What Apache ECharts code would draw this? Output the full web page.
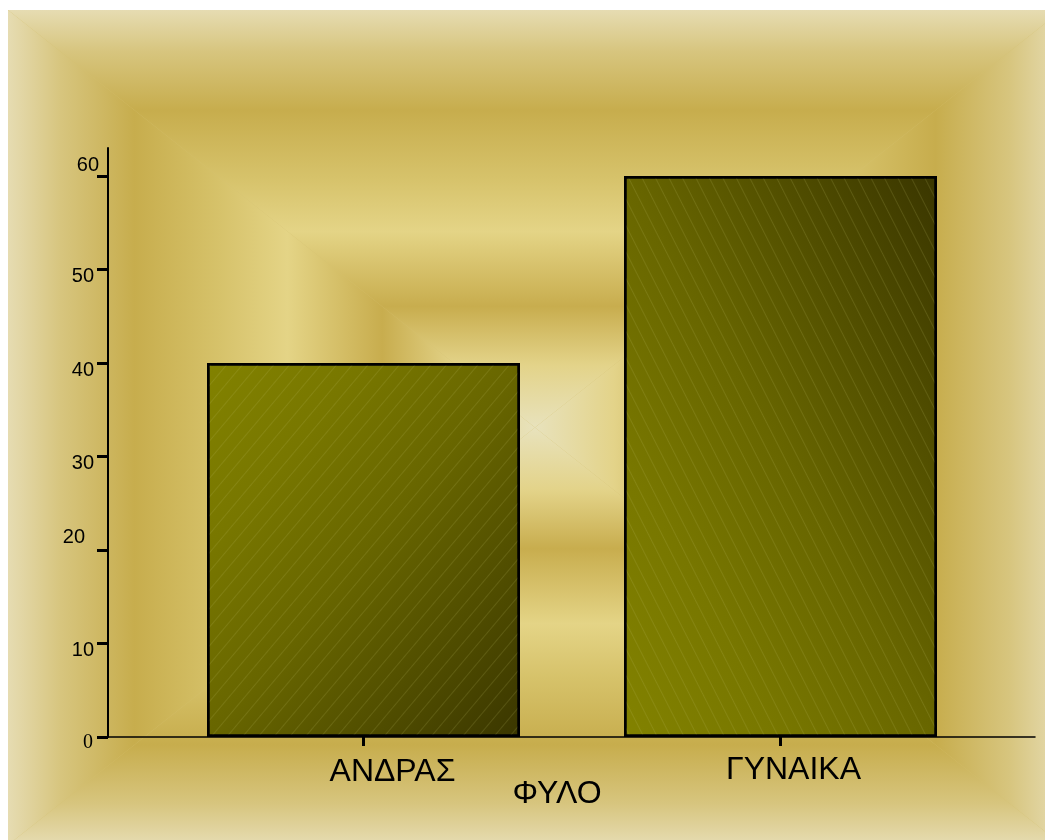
<!DOCTYPE html>
<html>
<head>
<meta charset="utf-8">
<script src="https://cdn.jsdelivr.net/npm/echarts@6/dist/echarts.min.js"></script>
<style>
html,body{margin:0;padding:0;background:#fff;}
#chart{width:1045px;height:840px;}
</style>
</head>
<body>
<div id="chart"></div>
<script>
const categories = ['ΑΝΔΡΑΣ', 'ΓΥΝΑΙΚΑ'];
const values = [40, 60];
const yTicks = [0, 10, 20, 30, 40, 50, 60];
const xAxisTitle = 'ΦΥΛΟ';

const chart = echarts.init(document.getElementById('chart'));

// rectangular ("from centre") gold gradient background
const bx0 = 8, by0 = 10, bx1 = 1062, by1 = 845;
const cx = (bx0 + bx1) / 2, cy = (by0 + by1) / 2;
const stops = [
  {offset: 0, color: '#e6dcb2'},
  {offset: 0.1, color: '#d7c57e'},
  {offset: 0.24, color: '#c7ad4d'},
  {offset: 0.4, color: '#d6c26a'},
  {offset: 0.53, color: '#e4d486'},
  {offset: 0.71, color: '#c8ad4e'},
  {offset: 0.85, color: '#e3d389'},
  {offset: 1, color: '#e8e2bc'}
];
function grad(x, y, x2, y2) {
  return new echarts.graphic.LinearGradient(x, y, x2, y2, stops);
}
const bgElems = [
  {type: 'rect', z: -20, shape: {x: bx0, y: by0, width: bx1 - bx0, height: by1 - by0}, style: {fill: '#d4c070'}},
  {type: 'polygon', z: -10, shape: {points: [[bx0, by0], [bx1, by0], [cx, cy]]}, style: {fill: grad(0, 0, 0, 1)}},
  {type: 'polygon', z: -10, shape: {points: [[bx0, by1], [bx1, by1], [cx, cy]]}, style: {fill: grad(0, 1, 0, 0)}},
  {type: 'polygon', z: -10, shape: {points: [[bx0, by0], [bx0, by1], [cx, cy]]}, style: {fill: grad(0, 0, 1, 0)}},
  {type: 'polygon', z: -10, shape: {points: [[bx1, by0], [bx1, by1], [cx, cy]]}, style: {fill: grad(1, 0, 0, 0)}}
];

// bar gradients: diagonal, with iso-lines along the opposite diagonal of each bar
const gridTop = 148, gridBottomPx = 737, yMax = 63, barW = 313;
const pxPerUnit = (gridBottomPx - gridTop) / yMax;
const barStops = [
  {offset: 0, color: '#828200'},
  {offset: 0.25, color: '#787700'},
  {offset: 0.5, color: '#686600'},
  {offset: 1, color: '#3a3600'}
];
function barGrad(v, rising) {
  const w = barW, h = v * pxPerUnit;
  const s = 2 * w * h / (w * w + h * h);
  if (rising) {
    return new echarts.graphic.LinearGradient(0, 1, s * h / w, 1 - s * w / h, barStops);
  }
  return new echarts.graphic.LinearGradient(0, 0, s * h / w, s * w / h, barStops);
}
const barRising = [false, true];
const hatchRotation = [-0.87, 1.1];

const yFont = {fontSize: 20, fontFamily: 'Liberation Sans', color: '#000'};
const yRich = {
  n: Object.assign({}, yFont, {padding: [14, 5, 0, 0]}),
  s60: Object.assign({}, yFont, {padding: [0, 0, 22, 0]}),
  s20: Object.assign({}, yFont, {padding: [0, 14, 26, 0]}),
  s0: Object.assign({}, yFont, {fontFamily: 'Liberation Serif', padding: [12, 6, 0, 0]})
};
const xFont = {fontSize: 32, fontFamily: 'Liberation Sans', color: '#000', lineHeight: 34};
const xRich = {
  c0: Object.assign({}, xFont, {padding: [4, 0, 0, 58]}),
  c1: Object.assign({}, xFont, {padding: [0, 0, 0, 26]})
};

const option = {
  backgroundColor: '#ffffff',
  animation: false,
  aria: {enabled: true, decal: {show: true}},
  graphic: {elements: bgElems},
  grid: [
    {left: 155, right: 56, top: gridTop, bottom: 840 - gridBottomPx},
    {left: 108, right: 10, top: gridTop, bottom: 840 - gridBottomPx}
  ],
  xAxis: [
    {
      type: 'category', gridIndex: 0, data: categories,
      axisLine: {show: false},
      axisTick: {show: true, alignWithLabel: true, length: 9, lineStyle: {color: '#000', width: 3}},
      axisLabel: {
        margin: 16,
        formatter: (v, i) => '{c' + i + '|' + v + '}',
        rich: xRich
      },
      name: xAxisTitle, nameLocation: 'middle', nameGap: 40, nameMoveOverlap: false,
      nameTextStyle: {fontSize: 32, fontFamily: 'Liberation Sans', color: '#000', lineHeight: 34, padding: [0, 30, 0, 0]}
    },
    {
      type: 'category', gridIndex: 1, data: [],
      axisLine: {show: true, lineStyle: {color: '#000', width: 1.5}},
      axisTick: {show: false}, axisLabel: {show: false}, splitLine: {show: false}
    }
  ],
  yAxis: [
    {type: 'value', gridIndex: 0, min: 0, max: yMax, show: false},
    {
      type: 'value', gridIndex: 1, min: 0, max: yMax,
      axisLine: {show: true, lineStyle: {color: '#000', width: 2}},
      axisTick: {show: true, length: 11, customValues: yTicks, lineStyle: {color: '#000', width: 3}},
      axisLabel: {
        margin: 9, customValues: yTicks,
        formatter: (v) => {
          const key = (v === 60 || v === 20 || v === 0) ? 's' + v : 'n';
          return '{' + key + '|' + v + '}';
        },
        rich: yRich
      },
      splitLine: {show: false}
    }
  ],
  series: [{
    type: 'bar',
    xAxisIndex: 0, yAxisIndex: 0,
    barWidth: barW,
    data: values.map((v, i) => ({
      value: v,
      itemStyle: {
        color: barGrad(v, barRising[i]),
        borderColor: '#000', borderWidth: 2.5,
        decal: {symbol: 'rect', symbolSize: 1, dashArrayX: [1, 0], dashArrayY: [1, 11],
                rotation: hatchRotation[i], color: 'rgba(190,190,100,0.18)'}
      }
    }))
  }]
};
chart.setOption(option);
</script>
</body>
</html>
